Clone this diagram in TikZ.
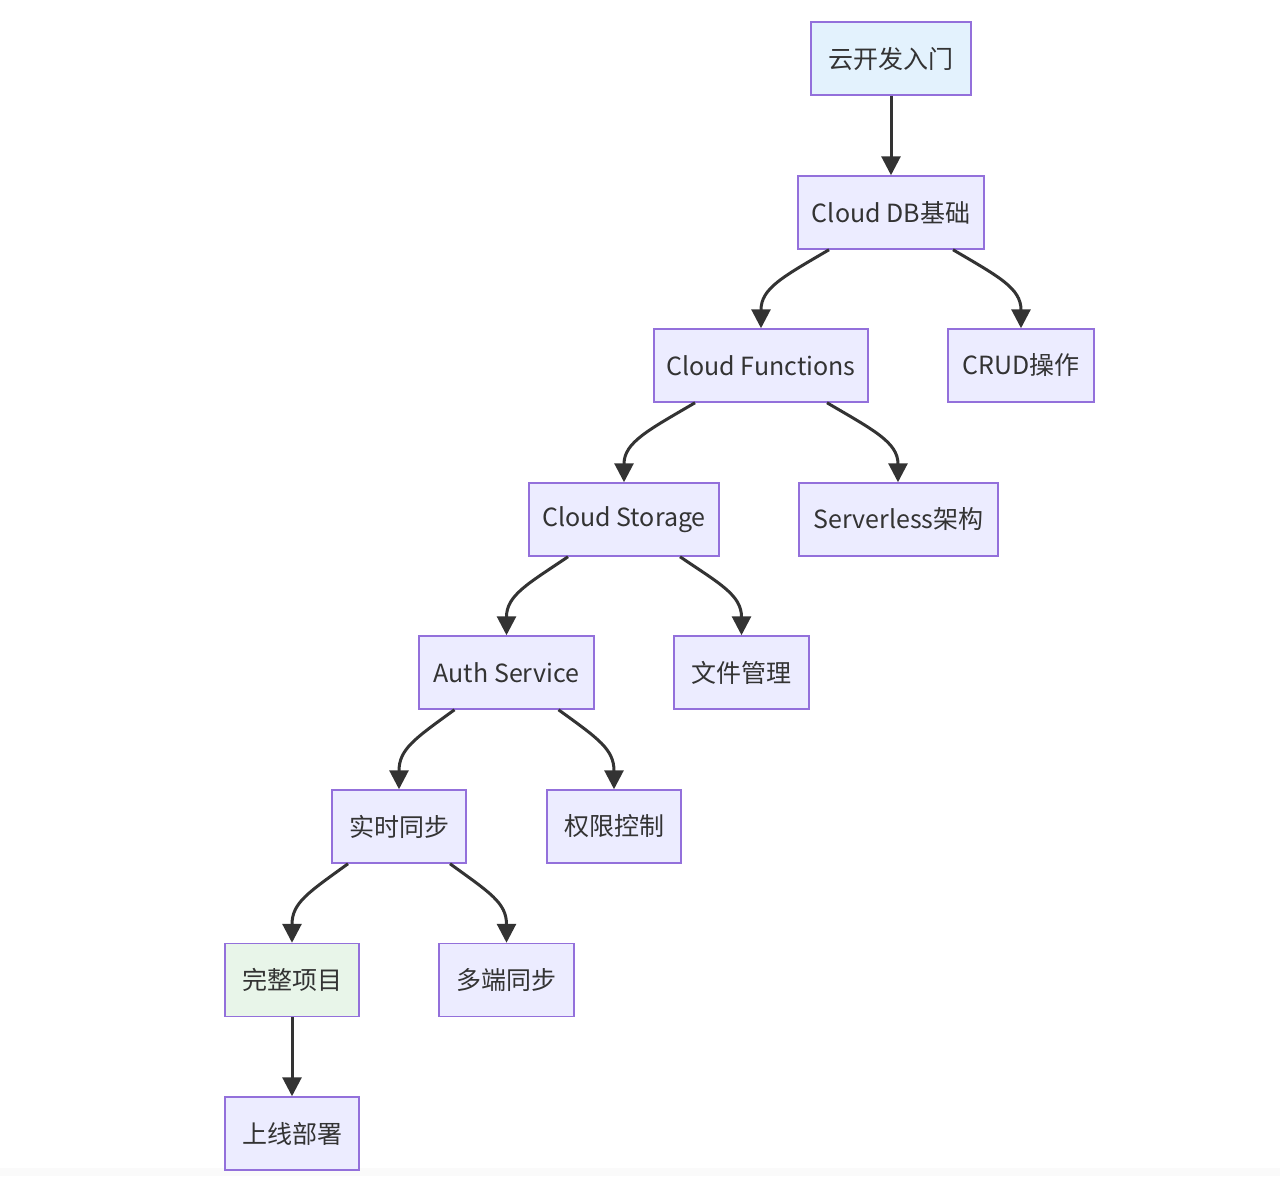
\documentclass[tikz,border=0pt]{standalone}
\usepackage{fontspec}
\setmainfont{Noto Sans CJK SC}
\usetikzlibrary{arrows.meta,calc}
\definecolor{bordc}{HTML}{9370DB}
\definecolor{nodefill}{HTML}{ECECFF}
\definecolor{bluefill}{HTML}{E3F2FD}
\definecolor{greenfill}{HTML}{E8F5E9}
\definecolor{txt}{HTML}{333333}
\definecolor{edgec}{HTML}{333333}
\begin{document}
\begin{tikzpicture}[x=1pt,y=-1pt,
  box/.style={draw=bordc,line width=1.5pt,fill=nodefill,minimum height=73pt,inner sep=0pt,
    text=txt,font=\fontsize{25}{29}\selectfont,anchor=center},
  conn/.style={draw=edgec,line width=3pt,-{Triangle[length=19pt,width=19pt]}},
]
\useasboundingbox (0,0) rectangle (1280,1176);
\fill[gray!4] (0,1168) rectangle (1280,1176);

\node[box,fill=bluefill,minimum width=160pt] (start) at (891,58.5) {云开发入门};
\node[box,minimum width=186pt] (cdb) at (891,212.5) {Cloud DB基础};
\node[box,minimum width=214pt] (cfn) at (761,365.5) {Cloud Functions};
\node[box,minimum width=146pt] (crud) at (1021,365.5) {CRUD操作};
\node[box,minimum width=190pt] (cst) at (624,519.5) {Cloud Storage};
\node[box,minimum width=199pt] (svl) at (898.5,519.5) {Serverless架构};
\node[box,minimum width=175pt] (auth) at (506.5,672.5) {Auth Service};
\node[box,minimum width=135pt] (file) at (741.5,672.5) {文件管理};
\node[box,minimum width=134pt] (rt) at (399,826.5) {实时同步};
\node[box,minimum width=134pt] (perm) at (614,826.5) {权限控制};
\node[box,fill=greenfill,minimum width=134pt] (proj) at (292,980) {完整项目};
\node[box,minimum width=135pt] (multi) at (506.5,980) {多端同步};
\node[box,minimum width=134pt] (dep) at (292,1133.5) {上线部署};

\draw[conn] (start.south) -- (cdb.north);
\draw[conn] (proj.south) -- (dep.north);

\draw[conn] ([xshift=-62pt]cdb.south) .. controls +(-46,27) and +(0,-40) .. (cfn.north);
\draw[conn] ([xshift=62pt]cdb.south) .. controls +(46,27) and +(0,-40) .. (crud.north);

\draw[conn] ([xshift=-66pt]cfn.south) .. controls +(-46,27) and +(0,-40) .. (cst.north);
\draw[conn] ([xshift=66pt]cfn.south) .. controls +(46,27) and +(0,-40) .. ([xshift=-0.5pt]svl.north);

\draw[conn] ([xshift=-56pt]cst.south) .. controls +(-40,27) and +(0,-40) .. (auth.north);
\draw[conn] ([xshift=56pt]cst.south) .. controls +(40,27) and +(0,-40) .. (file.north);

\draw[conn] ([xshift=-52pt]auth.south) .. controls +(-40,29) and +(0,-40) .. (rt.north);
\draw[conn] ([xshift=52pt]auth.south) .. controls +(40,29) and +(0,-40) .. (perm.north);

\draw[conn] ([xshift=-51pt]rt.south) .. controls +(-40,29) and +(0,-40) .. (proj.north);
\draw[conn] ([xshift=51pt]rt.south) .. controls +(40,29) and +(0,-40) .. (multi.north);
\end{tikzpicture}
\end{document}
